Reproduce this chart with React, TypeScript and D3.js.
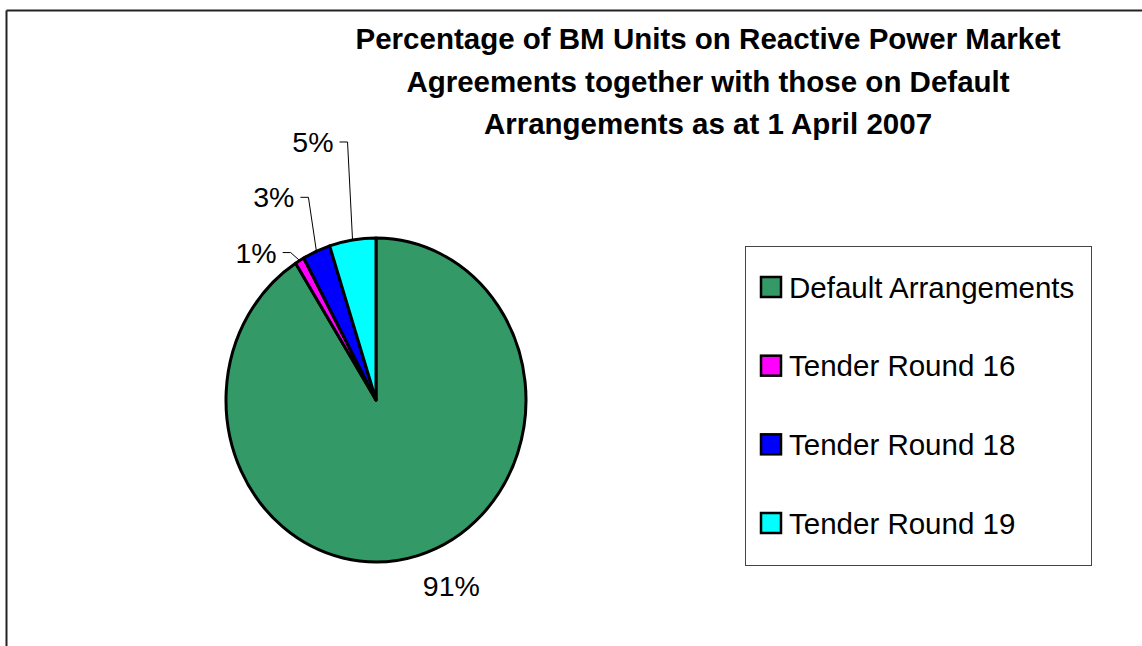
import React from "react";
import * as d3 from "d3";

const categories = ["Default Arrangements", "Tender Round 16", "Tender Round 18", "Tender Round 19"];
const values = [91, 1, 3, 5];
const colors = ["#339966", "#FF00FF", "#0000FF", "#00FFFF"];
const titleLines = [
  "Percentage of BM Units on Reactive Power Market",
  "Agreements together with those on Default",
  "Arrangements as at 1 April 2007",
];

// label layout: offset of the leader elbow from the slice's edge point (null = no leader)
const labelLayout = [
  { dx: 5, dy: 18, leader: false },
  { dx: -9, dy: -8, leader: true },
  { dx: -8, dy: -54, leader: true },
  { dx: -5, dy: -98, leader: true },
];

const W = 1142;
const H = 646;
const font = "'Liberation Sans', Arial, Helvetica, sans-serif";

export default function App() {
  const cx = 376;
  const cy = 400;
  const r = 150;
  const sy = 1.08;

  const pie = d3.pie<number>().sort(null).value((d) => d)(values);
  const arc = d3.arc<d3.PieArcDatum<number>>().innerRadius(0).outerRadius(r);
  const total = d3.sum(values);
  const fmt = (v: number) => `${Math.round((v / total) * 100)}%`;

  const legendX = 745;
  const legendY = 246;
  const legendW = 346;
  const legendH = 319;
  const rowY = d3.scalePoint<string>().domain(categories).range([287, 523]);

  return (
    <svg width={W} height={H} style={{ position: "absolute", left: 0, top: 0, background: "#fff" }} fontFamily={font}>
      <rect x={0} y={0} width={W} height={H} fill="#fff" />
      <line x1={6.5} y1={10.5} x2={W} y2={10.5} stroke="#222" strokeWidth={2} />
      <line x1={6.5} y1={10.5} x2={6.5} y2={H} stroke="#222" strokeWidth={2} />

      {titleLines.map((t, i) => (
        <text key={i} x={708} y={49 + i * 42.5} textAnchor="middle" fontWeight="bold" fontSize={29.5} fill="#000">
          {t}
        </text>
      ))}

      <g transform={`translate(${cx},${cy}) scale(1,${sy})`}>
        {pie.map((p, i) => (
          <path
            key={i}
            d={arc(p) || ""}
            fill={colors[i]}
            stroke="#000"
            strokeWidth={3}
            strokeLinejoin="round"
            vectorEffect="non-scaling-stroke"
          />
        ))}
      </g>

      {pie.map((p, i) => {
        const mid = (p.startAngle + p.endAngle) / 2;
        const ex = cx + Math.sin(mid) * r;
        const ey = cy - Math.cos(mid) * r * sy;
        const L = labelLayout[i];
        const bx = ex + L.dx;
        const by = ey + L.dy;
        if (!L.leader) {
          return (
            <text key={i} x={bx} y={by + 22} fontSize={28.5} fill="#000">
              {fmt(values[i])}
            </text>
          );
        }
        const hx = bx - 8;
        return (
          <g key={i}>
            <polyline points={`${ex},${ey} ${bx},${by} ${hx},${by}`} fill="none" stroke="#000" strokeWidth={1} />
            <text x={hx - 6} y={by + 10} textAnchor="end" fontSize={28.5} fill="#000">
              {fmt(values[i])}
            </text>
          </g>
        );
      })}

      <rect x={legendX + 0.5} y={legendY + 0.5} width={legendW} height={legendH} fill="#fff" stroke="#444" strokeWidth={1} />
      {categories.map((c, i) => {
        const y = rowY(c) as number;
        return (
          <g key={c}>
            <rect x={761} y={y - 10} width={20} height={20} fill={colors[i]} stroke="#000" strokeWidth={2.5} />
            <text x={789} y={y + 10.5} fontSize={29.5} fill="#000">
              {c}
            </text>
          </g>
        );
      })}
    </svg>
  );
}
